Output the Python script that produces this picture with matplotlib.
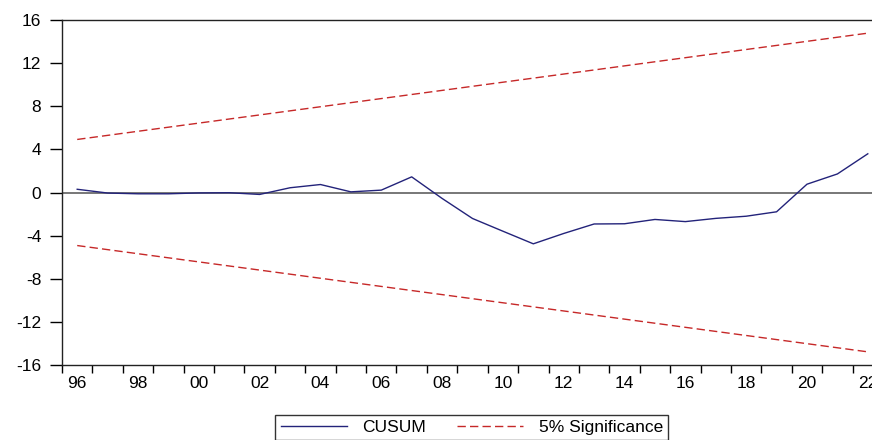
import matplotlib
matplotlib.use("Agg")
import matplotlib.pyplot as plt
from matplotlib.ticker import FixedLocator, NullFormatter, FixedFormatter

plt.rcParams.update({
    'font.family': ['Liberation Sans', 'DejaVu Sans'],
    'font.size': 12,
    'axes.unicode_minus': False,
})

# CUSUM recursive residual statistic, annual 1996-2022
years = list(range(1996, 2023))
cusum = [0.30, -0.05, -0.12, -0.12, -0.04, -0.02, -0.18, 0.44, 0.74, 0.06,
         0.22, 1.45, -0.55, -2.41, -3.59, -4.76, -3.80, -2.92, -2.90, -2.50,
         -2.70, -2.40, -2.20, -1.79, 0.77, 1.72, 3.59]

# 5% significance bounds (straight lines between the end years)
bound_years = [1996, 2022]
upper = [4.92, 14.78]
lower = [-4.92, -14.78]

y_ticks = [16, 12, 8, 4, 0, -4, -8, -12, -16]
x_label_years = list(range(1996, 2023, 2))
x_labels = [f"{y % 100:02d}" for y in x_label_years]

navy = '#23237a'
red = '#c62828'
dash = (0, (6, 3))

fig = plt.figure(figsize=(8.72, 4.40), dpi=100)
ax = fig.add_axes([62 / 872, 75 / 440, 821 / 872, 345 / 440])

ax.axhline(0, color='#606060', linewidth=1.2, zorder=1)
ax.plot(years, cusum, color=navy, linewidth=1.0, label='CUSUM', zorder=3)
ax.plot(bound_years, upper, color=red, linewidth=1.0, linestyle=dash,
        label='5% Significance', zorder=2)
ax.plot(bound_years, lower, color=red, linewidth=1.0, linestyle=dash,
        zorder=2)

ax.set_xlim(1995.5, 2022.5)
ax.set_ylim(-16, 16)

ax.set_yticks(y_ticks)
ax.tick_params(axis='y', direction='out', length=9, width=1, labelsize=12.5, pad=6)

# tick marks sit on year boundaries, labels sit on the observations
ax.xaxis.set_major_locator(FixedLocator([y - 0.5 for y in range(1996, 2024)]))
ax.xaxis.set_major_formatter(NullFormatter())
ax.xaxis.set_minor_locator(FixedLocator(x_label_years))
ax.xaxis.set_minor_formatter(FixedFormatter(x_labels))
ax.tick_params(axis='x', which='major', direction='out', length=6, width=1)
ax.tick_params(axis='x', which='minor', length=0, labelsize=12.5, pad=8)

for side in ['left', 'bottom', 'top']:
    ax.spines[side].set_linewidth(1.0)
    ax.spines[side].set_color('#222222')
ax.spines['right'].set_visible(False)

leg = fig.legend(loc='upper center', bbox_to_anchor=(0.541, 0.057), ncol=2,
                 frameon=True, fancybox=False, edgecolor='black',
                 handlelength=3.8, columnspacing=1.8, fontsize=12.5,
                 borderpad=0.3, borderaxespad=0, handletextpad=0.9)
leg.get_frame().set_linewidth(1.0)

fig.savefig('out.png', dpi=100)
